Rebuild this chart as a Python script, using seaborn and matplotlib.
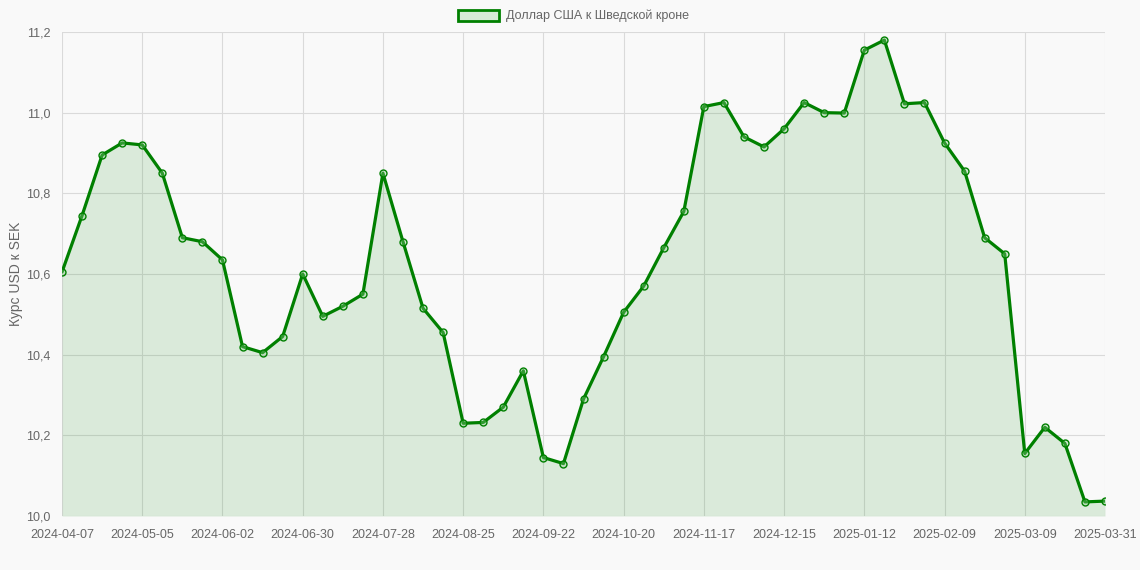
import pandas as pd
import matplotlib
matplotlib.use("Agg")
import matplotlib.pyplot as plt
import seaborn as sns
from matplotlib.ticker import FuncFormatter
from matplotlib.patches import Patch

# Weekly dates (category axis)
dates = [
    "2024-04-07", "2024-04-14", "2024-04-21", "2024-04-28", "2024-05-05", "2024-05-12",
    "2024-05-19", "2024-05-26", "2024-06-02", "2024-06-09", "2024-06-16", "2024-06-23",
    "2024-06-30", "2024-07-07", "2024-07-14", "2024-07-21", "2024-07-28", "2024-08-04",
    "2024-08-11", "2024-08-18", "2024-08-25", "2024-09-01", "2024-09-08", "2024-09-15",
    "2024-09-22", "2024-09-29", "2024-10-06", "2024-10-13", "2024-10-20", "2024-10-27",
    "2024-11-03", "2024-11-10", "2024-11-17", "2024-11-24", "2024-12-01", "2024-12-08",
    "2024-12-15", "2024-12-22", "2024-12-29", "2025-01-05", "2025-01-12", "2025-01-19",
    "2025-01-26", "2025-02-02", "2025-02-09", "2025-02-16", "2025-02-23", "2025-03-02",
    "2025-03-09", "2025-03-16", "2025-03-23", "2025-03-30", "2025-03-31",
]

rates = [
    10.605, 10.745, 10.895, 10.925, 10.92, 10.85, 10.69, 10.68, 10.635, 10.42,
    10.405, 10.445, 10.60, 10.495, 10.52, 10.55, 10.85, 10.68, 10.515, 10.455,
    10.23, 10.232, 10.27, 10.36, 10.145, 10.13, 10.29, 10.395, 10.505, 10.57,
    10.665, 10.755, 11.015, 11.025, 10.94, 10.915, 10.96, 11.025, 11.0, 10.999,
    11.155, 11.18, 11.022, 11.025, 10.925, 10.855, 10.69, 10.65, 10.155, 10.22,
    10.18, 10.035, 10.037,
]

tick_idx = list(range(0, len(dates) - 1, 4)) + [len(dates) - 1]
y_ticks = [10.0, 10.2, 10.4, 10.6, 10.8, 11.0, 11.2]

df = pd.DataFrame({"pos": range(len(dates)), "date": dates, "rate": rates})

green = "#008000"
grid_c = "#dadada"
text_c = "#666666"
bg = "#f9f9f9"

sns.set_style("white")
plt.rcParams["font.family"] = ["Liberation Sans", "DejaVu Sans"]

fig = plt.figure(figsize=(11.4, 5.7), dpi=100, facecolor=bg)
ax = fig.add_axes([0.0544, 0.0947, 0.9149, 0.8492])
ax.set_facecolor(bg)

ax.fill_between(df["pos"], df["rate"], 10.0, color=green, alpha=0.12, linewidth=0, zorder=1)
sns.lineplot(data=df, x="pos", y="rate", ax=ax, color=green, linewidth=2.3,
             marker="o", markersize=5, markerfacecolor=(0.55, 0.8, 0.55, 0.35),
             markeredgecolor=green, markeredgewidth=1.0, zorder=3, legend=False)

ax.set_xlim(0, len(dates) - 1)
ax.set_ylim(10.0, 11.2)
ax.set_xticks(tick_idx)
ax.set_xticklabels([dates[i] for i in tick_idx])
ax.set_yticks(y_ticks)
ax.yaxis.set_major_formatter(FuncFormatter(lambda v, p: f"{v:.1f}".replace(".", ",")))

ax.grid(True, color=grid_c, linewidth=0.8, zorder=0)
ax.set_axisbelow(True)
for s in ax.spines.values():
    s.set_visible(False)
ax.tick_params(axis="both", colors=grid_c, length=5, width=0.8, labelcolor=text_c, labelsize=9)
ax.tick_params(axis="x", pad=4)

ax.set_xlabel("")
ax.set_ylabel("Курс USD к SEK", color=text_c, fontsize=10, labelpad=2)

# legend
handle = Patch(facecolor=(0.84, 0.92, 0.84), edgecolor=green, linewidth=2,
               label="Доллар США к Шведской кроне")
leg = fig.legend(handles=[handle], loc="upper center", bbox_to_anchor=(0.503, 1.003), frameon=False,
                 fontsize=9, handlelength=3.3, handleheight=1.0, handletextpad=0.5)
for t in leg.get_texts():
    t.set_color(text_c)

fig.savefig("out.png", dpi=100, facecolor=bg)
